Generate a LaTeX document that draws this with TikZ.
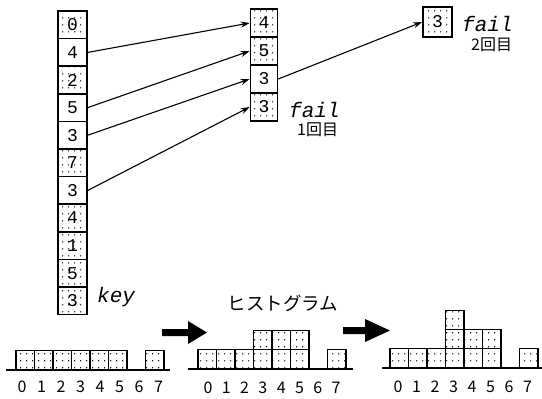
\documentclass[tikz,border=0pt]{standalone}
\usepackage{fontspec}
\newfontfamily\cour{Liberation Mono}
\newfontfamily\jp{Noto Sans CJK JP}
\usetikzlibrary{patterns,arrows.meta}
\pgfdeclarepatternformonly{sparsedots}{\pgfpointorigin}{\pgfpoint{6pt}{7pt}}{\pgfpoint{6pt}{7pt}}{%
  \pgfpathcircle{\pgfpoint{3pt}{3.5pt}}{0.8pt}\pgfusepath{fill}}
\tikzset{
  cell/.style={draw, line width=1.6pt, inner sep=0pt, font=\cour\fontsize{18}{18}\selectfont},
  dotcell/.style={cell, pattern=sparsedots},
  keycell/.style={minimum width=29pt, minimum height=27.6pt},
  midcell/.style={minimum width=27pt, minimum height=28pt},
  hbox/.style={draw, line width=1.5pt, pattern=sparsedots, minimum width=18.5pt, minimum height=19pt, inner sep=0pt},
  link/.style={line width=1.1pt, -{Stealth[length=9pt,width=6pt]}},
  failtxt/.style={font=\cour\itshape\fontsize{21}{21}\selectfont, inner sep=0pt, text depth=0pt, text height=11pt},
  cnttxt/.style={font=\jp\fontsize{16}{16}\selectfont, inner sep=0pt, text height=11pt, text depth=1pt},
  axlabel/.style={font=\jp\fontsize{16}{16}\selectfont, inner sep=0pt},
  bigarrow/.style={fill=black}
}
\begin{document}
\begin{tikzpicture}[x=1pt,y=-1pt]
\useasboundingbox (0,0) rectangle (542,399);
% key column
\foreach \v/\s [count=\i from 0] in {0/dotcell,4/cell,2/dotcell,5/cell,3/cell,7/dotcell,3/cell,4/dotcell,1/dotcell,5/dotcell,3/dotcell}{
  \node[\s, keycell] (k\i) at (72.5, {11+27.6*(\i+0.5)}) {\v};
}
\node[failtxt, anchor=base west] (key) at (97,302) {key};
% middle column
\foreach \v/\s [count=\i from 0] in {4/dotcell,5/dotcell,3/cell,3/dotcell}{
  \node[\s, midcell] (m\i) at (264, {9+28*(\i+0.5)}) {\v};
}
\node[failtxt, anchor=base west] (fail1) at (289,117) {fail};
\node[cnttxt, anchor=base west] (cnt1) at (297,135) {1回目};
% right cell
\node[dotcell, minimum width=29pt, minimum height=30pt] (r) at (437.5,22) {3};
\node[failtxt, anchor=base west] (fail2) at (462,31) {fail};
\node[cnttxt, anchor=base west] (cnt2) at (471,50) {2回目};
% links
\draw[link] (k1.east) -- (m0.west);
\draw[link] (k3.east) -- (m1.west);
\draw[link] (k4.east) -- (m2.west);
\draw[link] (k6.east) -- (m3.west);
\draw[link] (m2.east) -- (r.west);
% histogram 1
\draw[line width=1.3pt] (6,370) -- (170,370);
\foreach \i in {0,1,2,3,4,5,7}{
  \node[hbox, anchor=south west] (ha\i) at ({15+18.5*\i},370) {};
}
% histogram 2
\draw[line width=1.3pt] (188,369) -- (353,369);
\foreach \i/\h in {0/1,1/1,2/1,3/2,4/2,5/2,7/1}{
  \foreach \j in {1,...,\h}{
    \node[hbox, anchor=south west] (hb\i\j) at ({197+18.5*\i},{369-19*(\j-1)}) {};
  }
}
\node[font=\jp\fontsize{18.5}{18.5}\selectfont, inner sep=0pt] (histtitle) at (283,303) {ヒストグラム};
% histogram 3
\draw[line width=1.3pt] (382,368) -- (542,368);
\foreach \i/\h in {0/1,1/1,2/1,3/3,4/2,5/2,7/1}{
  \foreach \j in {1,...,\h}{
    \node[hbox, anchor=south west] (hc\i\j) at ({389+18.5*\i},{368-19*(\j-1)}) {};
  }
}
% axis labels
\foreach \i in {0,...,7}{
  \node[axlabel] (la\i) at ({22+19.5*\i},387) {\i};
  \node[axlabel] (lb\i) at ({208+18.3*\i},388) {\i};
  \node[axlabel] (lc\i) at ({398+18.5*\i},387) {\i};
}
% big arrows
\fill[bigarrow] (162,329) -- (188,329) -- (188,321) -- (207,332.5) -- (188,344) -- (188,336) -- (162,336) -- cycle;
\fill[bigarrow] (343,327) -- (365,327) -- (365,319) -- (390,330.5) -- (365,342) -- (365,334) -- (343,334) -- cycle;
\end{tikzpicture}
\end{document}
